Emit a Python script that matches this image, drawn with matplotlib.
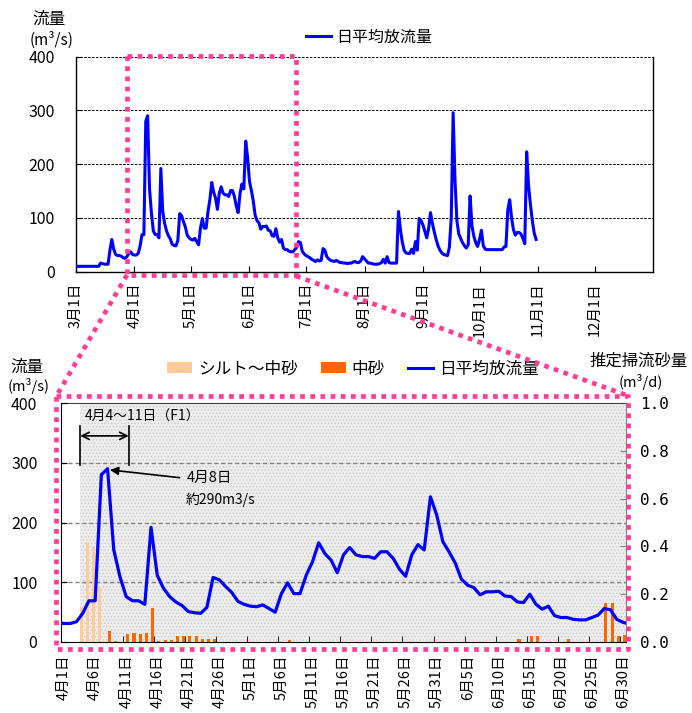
import numpy as np
import pandas as pd
import matplotlib
matplotlib.use("Agg")
import matplotlib.pyplot as plt
from matplotlib.lines import Line2D
from matplotlib.patches import Patch

plt.rcParams['font.family'] = ['Noto Sans CJK JP', 'DejaVu Sans']
plt.rcParams['hatch.linewidth'] = 0.6

# ---- daily mean discharge (m3/s), 1 Mar - 31 Oct ----
flow_mar = [10, 10, 10, 10, 10, 10, 10, 10, 10, 10, 10, 10, 10, 16, 15, 14,
            14, 14, 40, 60, 42, 32, 30, 30, 29, 26, 25, 28, 34, 37, 32]
flow_apr = [31, 31, 34, 48, 69, 69, 280, 290, 154, 109, 76, 69, 69, 63, 192,
            112, 90, 76, 67, 61, 51, 49, 48, 58, 108, 104, 93, 83, 68, 63]
flow_may = [60, 59, 62, 56, 50, 81, 99, 81, 81, 112, 134, 166, 148, 137, 116,
            146, 158, 146, 143, 143, 140, 151, 151, 140, 122, 110, 146, 163,
            154, 243, 213]
flow_jun = [168, 151, 132, 105, 95, 91, 79, 84, 84, 85, 77, 76, 67, 66, 80,
            63, 55, 60, 44, 41, 41, 38, 37, 37, 41, 45, 56, 54, 38, 33]
flow_jul = [30, 28, 26, 23, 21, 19, 22, 20, 21, 43, 40, 28, 24, 21, 20, 19,
            21, 19, 17, 17, 16, 16, 15, 16, 16, 18, 19, 17, 17, 20, 28]
flow_aug = [24, 20, 16, 16, 15, 14, 14, 14, 15, 17, 23, 16, 28, 17, 16, 16,
            16, 16, 112, 80, 56, 40, 35, 34, 34, 42, 34, 56, 40, 99, 95]
flow_sep = [87, 75, 63, 80, 110, 90, 74, 60, 48, 40, 35, 32, 31, 30, 45, 100,
            296, 170, 95, 70, 62, 54, 48, 44, 50, 141, 85, 66, 54, 47]
flow_oct = [60, 77, 48, 42, 41, 41, 41, 41, 41, 41, 41, 41, 41, 46, 47, 115,
            134, 100, 78, 68, 73, 73, 70, 62, 52, 223, 160, 125, 95, 72, 60]
flow = flow_mar + flow_apr + flow_may + flow_jun + flow_jul + flow_aug + flow_sep + flow_oct
dates = pd.date_range("2001-03-01", periods=len(flow), freq="D")

# ---- estimated bedload (m3/d) ----
silt_dates = ["04-04", "04-05", "04-06", "04-07"]
silt_vals = [0.148, 0.417, 0.396, 0.229]
sand_dates = ["04-08", "04-09", "04-11", "04-12", "04-13", "04-14", "04-15",
              "04-16", "04-17", "04-18", "04-19", "04-20", "04-21", "04-22",
              "04-23", "04-24", "04-25", "05-07", "06-13", "06-15", "06-16",
              "06-21", "06-27", "06-28", "06-29", "06-30"]
sand_vals = [0.046, 0.005, 0.032, 0.039, 0.032, 0.039, 0.141, 0.004, 0.010,
             0.010, 0.025, 0.025, 0.025, 0.025, 0.011, 0.011, 0.013, 0.008,
             0.011, 0.025, 0.025, 0.011, 0.162, 0.162, 0.025, 0.030]

flow_ticks = [0, 100, 200, 300, 400]
sed_ticks = [0.0, 0.2, 0.4, 0.6, 0.8, 1.0]

BLUE = '#0000FF'
LIGHT = '#FFCC99'
ORANGE = '#FF6600'
PINK = '#FF3D96'

W, H = 692, 713
fig = plt.figure(figsize=(W / 100, H / 100), dpi=100)


def fx(x):
    return x / W


def fy(y):
    return 1 - y / H


def md_label(d):
    return f"{d.month}月{d.day}日"


# ================= upper panel: whole season =================
ax1 = fig.add_axes([fx(76), fy(271.7), (653 - 76) / W, (271.7 - 56.7) / H])
ax1.plot(dates, flow, color=BLUE, lw=2.2, solid_joinstyle='round', zorder=3)
ax1.set_xlim(pd.Timestamp("2001-03-01"), pd.Timestamp("2002-01-01"))
ax1.set_ylim(0, 400)
ax1.set_yticks(flow_ticks)
for v in flow_ticks[1:]:
    ax1.axhline(v, color='black', lw=0.7, ls=(0, (2.5, 1.5)), zorder=1)
month_starts = pd.date_range("2001-03-01", "2001-12-01", freq="MS")
ax1.set_xticks(month_starts)
ax1.set_xticklabels([md_label(d) for d in month_starts], rotation=90, fontsize=10.5)
ax1.tick_params(axis='x', direction='in', length=4, pad=8)
ax1.tick_params(axis='y', direction='in', length=4, pad=15, labelsize=11.5)
ax1.spines['top'].set_visible(False)
for s in ['left', 'right', 'bottom']:
    ax1.spines[s].set_linewidth(1.0)

fig.text(fx(32), fy(19.5), '流量', fontsize=12, va='center', ha='left')
fig.text(fx(30), fy(40), '(m³/s)', fontsize=11, va='center', ha='left')
fig.legend([Line2D([], [], color=BLUE, lw=2.2)], ['日平均放流量'],
           loc='center', bbox_to_anchor=(fx(369), fy(37)), frameon=False,
           fontsize=11.5, handlelength=1.6, handletextpad=0.3)

# ================= lower panel: 1 Apr - 30 Jun =================
rect = [fx(61), fy(642), (626 - 61) / W, (642 - 403) / H]
ax_sed = fig.add_axes(rect)
ax_q = fig.add_axes(rect, sharex=ax_sed)
ax_q.patch.set_visible(False)

apr1 = pd.Timestamp("2001-04-01")
n_days = 91

# shaded survey period and everything after it
ax_sed.axvspan(2.5, n_days - 0.5, facecolor='#EEEEEE', edgecolor='#CACACA',
               hatch='.....', lw=0, zorder=0)
for v in flow_ticks[1:-1]:
    ax_sed.axhline(v / flow_ticks[-1] * sed_ticks[-1], color='#808080', lw=1.0,
                   ls=(0, (3, 2)), zorder=1)

silt_x = np.array([(pd.Timestamp("2001-" + d) - apr1).days for d in silt_dates])
sand_x = np.array([(pd.Timestamp("2001-" + d) - apr1).days for d in sand_dates])
ax_sed.bar(silt_x - 0.26, silt_vals, width=0.5, color=LIGHT, zorder=2)
ax_sed.bar(sand_x + 0.26, sand_vals, width=0.5, color=ORANGE, zorder=2)
ax_sed.set_ylim(0, 1.0)
ax_sed.set_xlim(-0.5, n_days - 0.5)
ax_sed.yaxis.tick_right()
ax_sed.set_yticks(sed_ticks)
ax_sed.set_yticklabels([f"{v:.1f}" for v in sed_ticks], family='DejaVu Sans Mono', fontsize=11.5)
ax_sed.tick_params(axis='y', direction='in', length=4, pad=10, color='#808080')

lab_pos = list(range(0, n_days, 5))
ax_sed.set_xticks(lab_pos)
ax_sed.set_xticklabels([md_label(apr1 + pd.Timedelta(days=i)) for i in lab_pos],
                       rotation=90, fontsize=10.5)
ax_sed.set_xticks([i - 0.5 for i in lab_pos], minor=True)
ax_sed.tick_params(axis='x', which='major', length=0, pad=9)
ax_sed.tick_params(axis='x', which='minor', direction='in', length=4)
ax_sed.spines['left'].set_visible(False)
ax_sed.spines['right'].set_color('#808080')
ax_sed.spines['top'].set_color('#404040')
ax_sed.spines['top'].set_linewidth(0.8)

# discharge line over the bars
sel = (dates >= apr1 - pd.Timedelta(days=1)) & (dates <= apr1 + pd.Timedelta(days=n_days))
q_x = np.array([(d - apr1).days for d in dates[sel]])
q_y = np.array(flow)[sel]
ax_q.plot(q_x, q_y, color=BLUE, lw=2.3, solid_joinstyle='round', zorder=3)
ax_q.set_ylim(0, 400)
ax_q.set_yticks(flow_ticks)
ax_q.tick_params(axis='y', direction='in', length=4, pad=17, labelsize=11.5)
ax_q.tick_params(axis='x', which='both', bottom=False, labelbottom=False)
for s in ['top', 'right', 'bottom']:
    ax_q.spines[s].set_visible(False)

# survey period bracket and peak note
for xb in (2.5, 10.5):
    ax_q.plot([xb, xb], [296, 362], color='black', lw=1.2, zorder=4)
ax_q.annotate('', xy=(2.6, 345), xytext=(10.4, 345),
              arrowprops=dict(arrowstyle='<->', color='black', lw=1.2,
                              shrinkA=0, shrinkB=0, mutation_scale=13))
ax_q.text(3.4, 377, '4月4〜11日（F1）', fontsize=10, va='center', ha='left')
ax_q.annotate('', xy=(7.4, 288), xytext=(18.6, 275),
              arrowprops=dict(arrowstyle='-|>', color='black', lw=1.2,
                              shrinkA=0, shrinkB=0, mutation_scale=12))
ax_q.text(19.8, 275, '4月8日', fontsize=10.5, va='center', ha='left')
ax_q.text(19.6, 238, '約290m3/s', fontsize=10, va='center', ha='left')

fig.text(fx(10), fy(367), '流量', fontsize=12, va='center', ha='left')
fig.text(fx(8), fy(386), '(m³/s)', fontsize=10.5, va='center', ha='left')
fig.text(fx(590), fy(361), '推定掃流砂量', fontsize=11.8, va='center', ha='left')
fig.text(fx(619), fy(382), '(m³/d)', fontsize=10.5, va='center', ha='left')

fig.legend([Patch(facecolor=LIGHT), Patch(facecolor=ORANGE), Line2D([], [], color=BLUE, lw=2.2)],
           ['シルト〜中砂', '中砂', '日平均放流量'], ncol=3, loc='center',
           bbox_to_anchor=(fx(353), fy(369)), frameon=False, fontsize=12,
           handlelength=1.5, handleheight=0.6, handletextpad=0.35, columnspacing=1.4)

# ---- pink dotted zoom frame ----
def dotted(xs, ys):
    fig.add_artist(Line2D([fx(x) for x in xs], [fy(y) for y in ys],
                          transform=fig.transFigure, color=PINK, lw=3.4,
                          ls=(0, (1, 1.15)), dash_capstyle='butt', zorder=20))


dotted([127, 296, 296, 127, 127], [56, 56, 275, 275, 56])
dotted([56.5, 627.5, 627.5, 56.5, 56.5], [396, 396, 649, 649, 396])
dotted([127, 57], [275, 395])
dotted([296, 626], [276, 395])

fig.savefig("out.png", dpi=100)
